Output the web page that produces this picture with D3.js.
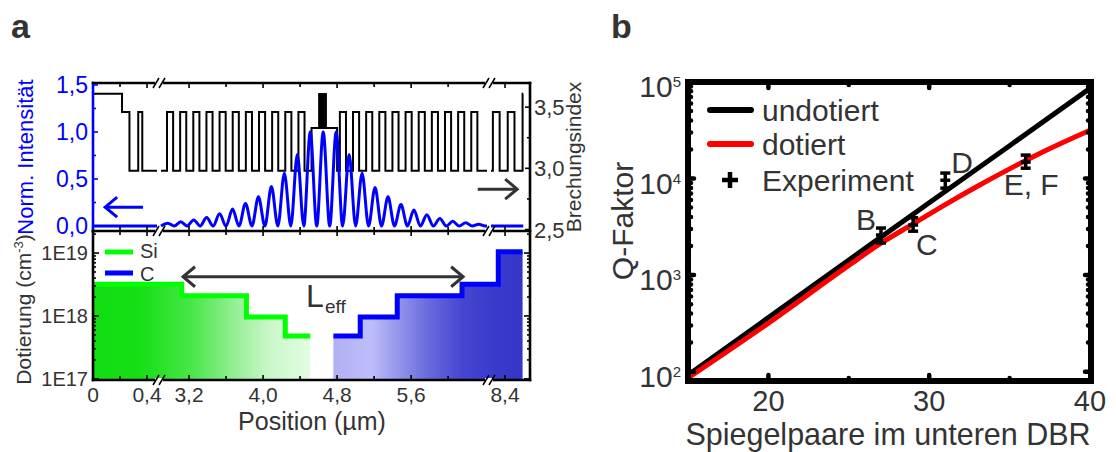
<!DOCTYPE html>
<html>
<head>
<meta charset="utf-8">
<script src="https://cdn.jsdelivr.net/npm/d3@7"></script>
<style>
  body { margin: 0; background: #fff; }
  svg { display: block; font-family: "Liberation Sans", Arial, sans-serif; }
</style>
</head>
<body>
<svg width="1116" height="452"></svg>
<script>
// ---------- panel a : data ----------
// refractive index levels
const nSub = 3.61, nHi = 3.46, nLo = 2.98, nCav = 3.33, nQW = 3.615;
// one DBR pair [thickness µm, n]
const dbrPair = [[0.066, nHi], [0.076, nLo]];
// layer stack, "dbr" rows = number of repeated pairs
const layerStack = [
  [0.215, nSub], [0.055, nHi], [0.065, nLo], [0.030, nHi], [2.597, nLo],
  ["dbr", 11],
  [0.276, nCav], [0.030, nLo],
  ["dbr", 11],
  [1.918, nLo], [0.050, nHi], [0.060, nLo], [0.050, nHi], [0.060, nLo], [0.005, nSub]
];
const activeRegion = [4.595, 4.69];

// normalized intensity: antinode positions (µm) and peak heights
const peakPos = [2.97, 3.11, 3.25, 3.39, 3.53, 3.67, 3.81, 3.95, 4.09, 4.23, 4.37, 4.51,
                 4.65, 4.79, 4.93, 5.07, 5.21, 5.35, 5.49, 5.63, 5.77, 5.91, 6.05, 6.19, 6.33];
const peakVal = [0.03, 0.045, 0.065, 0.09, 0.13, 0.18, 0.24, 0.31, 0.42, 0.56, 0.76, 1.0,
                 1.0, 1.0, 0.76, 0.56, 0.41, 0.31, 0.23, 0.17, 0.12, 0.08, 0.05, 0.035, 0.02];

// doping steps [from µm, to µm, cm^-3]
const siSteps = [[0, 3.12, 3.2e18], [3.12, 3.82, 2.1e18], [3.82, 4.24, 9.6e17], [4.24, 4.51, 4.8e17]];
const cSteps = [[4.76, 5.05, 4.8e17], [5.05, 5.45, 9.6e17], [5.45, 6.15, 2.1e18], [6.15, 8.35, 3.2e18], [8.35, 8.53, 1.05e19]];

const xTickMajor = [0, 0.4, 3.2, 4.0, 4.8, 5.6, 8.4];
const xTickMinor = [0.2, 3.6, 4.4, 5.2, 6.0];
const intTicks = [0, 0.5, 1.0, 1.5];
const intMinor = [0.25, 0.75, 1.25];
const nTicks = [2.5, 3.0, 3.5];
const nMinor = [2.75, 3.25];
const dopTicks = [1e17, 1e18, 1e19];

// ---------- panel b : data ----------
const pairsUndoped = [15, 20, 25, 30, 35, 40];
const qUndoped = [92, 363, 1430, 5620, 21900, 86000];
const pairsDoped = [15, 20, 25, 27, 29, 31, 33, 35, 37, 40];
const qDoped = [86, 318, 1260, 2140, 3390, 5370, 8320, 12600, 18600, 31600];
const expPairs = [27, 29, 31, 36];
const expQ = [2600, 3300, 9600, 14800];
const expLow = [2150, 2850, 7950, 12800];
const expHigh = [3070, 3930, 11400, 17500];
const expNames = ["B", "C", "D", "E, F"];

const svg = d3.select("svg");
const ink = "#333";
const comma = d => d3.format(".1f")(d).replace(".", ",");
const defs = svg.append("defs");

// ================= panel a =================
const aL = 93, aR = 530, aT = 83, aM = 231, aB = 380;
const x = d3.scaleLinear()
    .domain([0, 0.474, 2.897, 6.42, 8.296, 8.585])
    .range([aL, 157, 161, 487, 491, aR]);
const xSegments = [[0, 0.474], [2.897, 6.42], [8.296, 8.585]];
const yI = d3.scaleLinear().domain([-0.053, 1.521]).range([aM, aT]);
const yN = d3.scaleLinear().domain([2.488, 3.697]).range([aM, aT]);
const yD = d3.scaleLog().domain([9.6e16, 2.24e19]).range([aB, aM]);

const ga = svg.append("g");

function grad(id, x1, x2, stops) {
  const g = defs.append("linearGradient").attr("id", id)
      .attr("gradientUnits", "userSpaceOnUse")
      .attr("x1", x1).attr("x2", x2).attr("y1", 0).attr("y2", 0);
  stops.forEach(([o, c]) => g.append("stop").attr("offset", o).attr("stop-color", c));
}
grad("siFill", x(0), x(4.51), [[0, "#12dd12"], [0.22, "#16df16"], [0.45, "#48e648"],
  [0.68, "#9ef09e"], [0.82, "#cbf8cb"], [1, "#e2fde2"]]);
grad("cFill", x(4.76), x(8.53), [[0, "#b0b0f2"], [0.2, "#bebefc"], [0.33, "#9898ec"],
  [0.5, "#6a6ade"], [0.68, "#4646d2"], [0.85, "#3a3acc"], [1, "#3535c8"]]);

// doping fills and lines
const stepPts = s => s.map(d => [d[0], d[2]]).concat([[s[s.length - 1][1], s[s.length - 1][2]]]);
const dopArea = d3.area().curve(d3.curveStepAfter).x(d => x(d[0])).y0(aB).y1(d => yD(d[1]));
const dopLine = d3.line().curve(d3.curveStepAfter).x(d => x(d[0])).y(d => yD(d[1]));

ga.append("path").attr("d", dopArea(stepPts(siSteps))).attr("fill", "url(#siFill)");
ga.append("path").attr("d", dopArea(stepPts(cSteps))).attr("fill", "url(#cFill)");
ga.append("path").attr("d", dopLine(stepPts(siSteps))).attr("fill", "none")
    .attr("stroke", "#00ff00").attr("stroke-width", 5);
ga.append("path").attr("d", dopLine(stepPts(cSteps))).attr("fill", "none")
    .attr("stroke", "#0000ff").attr("stroke-width", 5);

// refractive index profile
const layers = [];
let pos = 0;
layerStack.forEach(([d, n]) => {
  const items = d === "dbr" ? d3.range(n).flatMap(() => dbrPair) : [[d, n]];
  items.forEach(([t, v]) => { layers.push([pos, pos + t, v]); pos += t; });
});
function clipSteps(steps, lo, hi) {
  const s = steps.filter(l => l[1] > lo && l[0] < hi)
      .map(l => [Math.max(l[0], lo), Math.min(l[1], hi), l[2]]);
  return stepPts(s);
}
const nLine = d3.line().curve(d3.curveStepAfter).x(d => x(d[0])).y(d => yN(d[1]));
xSegments.forEach(([lo, hi]) => {
  ga.append("path").attr("d", nLine(clipSteps(layers, lo, hi)))
      .attr("fill", "none").attr("stroke", "#000").attr("stroke-width", 2);
});
ga.append("rect")
    .attr("x", x(activeRegion[0])).attr("width", x(activeRegion[1]) - x(activeRegion[0]))
    .attr("y", yN(nQW)).attr("height", yN(nCav) - yN(nQW))
    .attr("fill", "#000");

// intensity
const midPts = [[xSegments[1][0], 0]];
peakPos.forEach((p, i) => {
  if (i > 0) midPts.push([(peakPos[i - 1] + p) / 2, 0]);
  midPts.push([p, peakVal[i]]);
});
midPts.push([6.40, 0], [xSegments[1][1], 0]);
const intSegs = [[[0, 0], [xSegments[0][1], 0]], midPts, [[xSegments[2][0], 0], [8.535, 0]]];
const iLine = d3.line().curve(d3.curveMonotoneX).x(d => x(d[0])).y(d => yI(d[1]));
intSegs.forEach(s => {
  ga.append("path").attr("d", iLine(s)).attr("fill", "none")
      .attr("stroke", "#0000ff").attr("stroke-width", 3);
});

// ticks
function vTicks(vals, y, len) {
  ga.append("g").selectAll("line").data(vals).join("line")
      .attr("x1", d => x(d)).attr("x2", d => x(d)).attr("y1", y).attr("y2", y + len)
      .attr("stroke", "#000").attr("stroke-width", 1.6);
}
function hTicks(scale, vals, xx, len, color) {
  ga.append("g").selectAll("line").data(vals).join("line")
      .attr("x1", xx).attr("x2", xx + len).attr("y1", d => scale(d)).attr("y2", d => scale(d))
      .attr("stroke", color).attr("stroke-width", 1.6);
}
vTicks(xTickMajor, aT, 5); vTicks(xTickMinor, aT, 4);
vTicks(xTickMajor, aM, -5); vTicks(xTickMinor, aM, -4);
vTicks(xTickMajor, aM, 5); vTicks(xTickMinor, aM, 4);
vTicks(xTickMajor, aB, -5); vTicks(xTickMinor, aB, -4);
hTicks(yI, intTicks, aL, 5, "#0000ff"); hTicks(yI, intMinor, aL, 3, "#0000ff");
hTicks(yN, nTicks, aR, -5, "#000"); hTicks(yN, nMinor, aR, -3, "#000");
const dopMinor = [1e17, 1e18, 1e19].flatMap(d => d3.range(2, 10).map(k => k * d)).filter(v => v <= 2.24e19);
hTicks(yD, dopTicks, aL, 6, "#000"); hTicks(yD, dopMinor, aL, 3, "#000");
hTicks(yD, dopTicks, aR, -6, "#000"); hTicks(yD, dopMinor, aR, -3, "#000");

// frame
const frame = [
  [aL, aT, aL, aM, "#0000ff"], [aL, aM, aL, aB, "#000"], [aR, aT, aR, aB, "#000"],
  [aL, aT, aR, aT, "#000"], [aL, aM, aR, aM, "#000"], [aL, aB, aR, aB, "#000"]
];
ga.append("g").selectAll("line").data(frame).join("line")
    .attr("x1", d => d[0]).attr("y1", d => d[1]).attr("x2", d => d[2]).attr("y2", d => d[3])
    .attr("stroke", d => d[4]).attr("stroke-width", 2.6).attr("stroke-linecap", "square");

// axis breaks
const breakX = [(x(0.474) + x(2.897)) / 2, (x(6.42) + x(8.296)) / 2];
breakX.forEach(bx => [aT, aM, aB].forEach(by => {
  ga.append("rect").attr("x", bx - 4).attr("y", by - 2).attr("width", 8).attr("height", 4).attr("fill", "#fff");
  [-3, 3].forEach(o => ga.append("line")
      .attr("x1", bx + o - 3).attr("y1", by + 5).attr("x2", bx + o + 3).attr("y2", by - 5)
      .attr("stroke", "#000").attr("stroke-width", 1.5));
}));

// tick labels
ga.append("g").selectAll("text").data(xTickMajor).join("text")
    .attr("x", d => x(d)).attr("y", 402).attr("text-anchor", "middle")
    .attr("font-size", 21).attr("fill", ink).text(d => d === 0 ? "0" : comma(d));
ga.append("g").selectAll("text").data(intTicks).join("text")
    .attr("x", 88).attr("y", d => yI(d) + 8).attr("text-anchor", "end")
    .attr("font-size", 23).attr("fill", "#0000ff").text(comma);
ga.append("g").selectAll("text").data(nTicks).join("text")
    .attr("x", 534).attr("y", d => yN(d) + 8).attr("text-anchor", "start")
    .attr("font-size", 22).attr("fill", ink).text(comma);
ga.append("g").selectAll("text").data(dopTicks).join("text")
    .attr("x", 88).attr("y", d => yD(d) + 7).attr("text-anchor", "end")
    .attr("font-size", 20).attr("fill", ink).text(d => "1E" + Math.round(Math.log10(d)));

// axis titles
ga.append("text").attr("x", 312).attr("y", 430).attr("text-anchor", "middle")
    .attr("font-size", 25).attr("fill", ink).text("Position (µm)");
ga.append("text").attr("transform", `translate(33,${(aT + aM) / 2}) rotate(-90)`)
    .attr("text-anchor", "middle").attr("font-size", 22).attr("fill", "#0000ff").text("Norm. Intensität");
ga.append("text").attr("transform", `translate(581,${(aT + aM) / 2}) rotate(-90)`)
    .attr("text-anchor", "middle").attr("font-size", 21).attr("fill", ink).text("Brechungsindex");
const dt = ga.append("text").attr("transform", `translate(31,${(aM + aB) / 2 + 4}) rotate(-90)`)
    .attr("text-anchor", "middle").attr("font-size", 21).attr("fill", ink);
dt.append("tspan").text("Dotierung (cm");
dt.append("tspan").attr("dy", -8).attr("font-size", 13).text("-3");
dt.append("tspan").attr("dy", 8).text(")");

// legend Si / C
[["Si", "#00ff00", 252, 258], ["C", "#0000ff", 273, 281]].forEach(([t, c, yy, base]) => {
  ga.append("line").attr("x1", 105).attr("x2", 133).attr("y1", yy).attr("y2", yy)
      .attr("stroke", c).attr("stroke-width", 5);
  ga.append("text").attr("x", 140).attr("y", base).attr("font-size", 20).attr("fill", ink).text(t);
});

// arrows
function chevron(tx, ty, dir, color, w) {
  ga.append("path")
      .attr("d", `M${tx + dir * 12},${ty - 10}L${tx},${ty}L${tx + dir * 12},${ty + 10}`)
      .attr("fill", "none").attr("stroke", color).attr("stroke-width", w);
}
function arrow(x1, x2, yy, color, w, both) {
  ga.append("line").attr("x1", x1).attr("x2", x2).attr("y1", yy).attr("y2", yy)
      .attr("stroke", color).attr("stroke-width", w);
  chevron(x1, yy, 1, color, w);
  if (both) chevron(x2, yy, -1, color, w);
}
arrow(x(0.09), x(0.37), yI(0.2), "#0000ff", 3, false);
ga.append("line").attr("x1", x(6.32)).attr("x2", x(8.49)).attr("y1", yN(2.83)).attr("y2", yN(2.83))
    .attr("stroke", "#333").attr("stroke-width", 3);
chevron(x(8.49), yN(2.83), -1, "#333", 3);
arrow(x(3.135), x(6.162), yD(4.2e18), "#333", 3, true);
ga.append("text").attr("x", 306).attr("y", 307).attr("font-size", 32).attr("fill", ink).text("L");
ga.append("text").attr("x", 325).attr("y", 313).attr("font-size", 19).attr("fill", ink).text("eff");

svg.append("text").attr("x", 11).attr("y", 38).attr("font-size", 34).attr("font-weight", "bold")
    .attr("fill", ink).text("a");

// ================= panel b =================
const bL = 688, bR = 1091, bT = 82, bB = 381;
const xb = d3.scaleLinear().domain([15, 40]).range([bL, 1090]);
const yb = d3.scaleLog().domain([80, 1e5]).range([bB, bT]);
const gb = svg.append("g");

defs.append("clipPath").attr("id", "bclip").append("rect")
    .attr("x", bL).attr("y", bT).attr("width", bR - bL).attr("height", bB - bT);

const qLine = d3.line().curve(d3.curveMonotoneX).x(d => xb(d[0])).y(d => yb(d[1]));
gb.append("path").attr("clip-path", "url(#bclip)")
    .attr("d", qLine(d3.zip(pairsUndoped, qUndoped)))
    .attr("fill", "none").attr("stroke", "#000").attr("stroke-width", 5);
gb.append("path").attr("clip-path", "url(#bclip)")
    .attr("d", qLine(d3.zip(pairsDoped, qDoped)))
    .attr("fill", "none").attr("stroke", "#ff0000").attr("stroke-width", 5);

// experiment with error bars
const exp = expPairs.map((p, i) => ({p, q: expQ[i], lo: expLow[i], hi: expHigh[i], name: expNames[i]}));
const eg = gb.append("g").attr("stroke", "#000").attr("stroke-width", 3.5);
exp.forEach(d => {
  const cx = xb(d.p);
  eg.append("line").attr("x1", cx).attr("x2", cx).attr("y1", yb(d.lo)).attr("y2", yb(d.hi));
  [d.lo, d.hi, d.q].forEach(v => eg.append("line")
      .attr("x1", cx - 5).attr("x2", cx + 5).attr("y1", yb(v)).attr("y2", yb(v)));
});
const labOff = {"B": [-25, -5], "C": [3, 30], "D": [6, -7], "E, F": [-22, 33]};
exp.forEach(d => {
  const o = labOff[d.name];
  gb.append("text").attr("x", xb(d.p) + o[0]).attr("y", yb(d.q) + o[1])
      .attr("font-size", 30).attr("fill", ink).text(d.name);
});

// frame and ticks
gb.append("rect").attr("x", bL).attr("y", bT).attr("width", bR - bL).attr("height", bB - bT)
    .attr("fill", "none").attr("stroke", "#000").attr("stroke-width", 6);
const bt = gb.append("g").attr("stroke", "#000").attr("stroke-width", 4.5).attr("stroke-linecap", "round");
[[20, 6], [30, 6], [25, 3], [35, 3]].forEach(([v, len]) => {
  bt.append("line").attr("x1", xb(v)).attr("x2", xb(v)).attr("y1", bB).attr("y2", bB - len);
  bt.append("line").attr("x1", xb(v)).attr("x2", xb(v)).attr("y1", bT).attr("y2", bT + len);
});
const qMajor = [100, 1000, 10000];
const qMinor = [100, 1000, 10000].flatMap(d => d3.range(2, 10).map(k => k * d));
qMajor.map(v => [v, 6]).concat(qMinor.map(v => [v, 3])).forEach(([v, len]) => {
  bt.append("line").attr("x1", bL).attr("x2", bL + len).attr("y1", yb(v)).attr("y2", yb(v));
  bt.append("line").attr("x1", bR).attr("x2", bR - len).attr("y1", yb(v)).attr("y2", yb(v));
});

// tick labels
gb.append("g").selectAll("text").data([20, 30, 40]).join("text")
    .attr("x", d => xb(d)).attr("y", 411).attr("text-anchor", "middle")
    .attr("font-size", 29).attr("fill", ink).text(d => d);
[100, 1000, 10000, 100000].forEach(v => {
  const t = gb.append("text").attr("x", 681).attr("y", yb(v) + 15).attr("text-anchor", "end")
      .attr("font-size", 30).attr("fill", ink);
  t.append("tspan").text("10");
  t.append("tspan").attr("dy", -10).attr("font-size", 15).text(Math.round(Math.log10(v)));
});

// axis titles
gb.append("text").attr("x", 888).attr("y", 445).attr("text-anchor", "middle")
    .attr("font-size", 30.5).attr("fill", ink).text("Spiegelpaare im unteren DBR");
gb.append("text").attr("transform", "translate(633,221) rotate(-90)").attr("text-anchor", "middle")
    .attr("font-size", 30).attr("fill", ink).text("Q-Faktor");

// legend
gb.append("line").attr("x1", 710).attr("x2", 751).attr("y1", 110).attr("y2", 110)
    .attr("stroke", "#000").attr("stroke-width", 6).attr("stroke-linecap", "round");
gb.append("line").attr("x1", 710).attr("x2", 751).attr("y1", 144).attr("y2", 144)
    .attr("stroke", "#ff0000").attr("stroke-width", 6).attr("stroke-linecap", "round");
gb.append("path").attr("d", "M722,180H738M730,172V188").attr("stroke", "#000").attr("stroke-width", 4.5);
[["undotiert", 121], ["dotiert", 155], ["Experiment", 191]].forEach(([t, yy]) => {
  gb.append("text").attr("x", 762).attr("y", yy).attr("font-size", 30).attr("fill", ink).text(t);
});

svg.append("text").attr("x", 611).attr("y", 38).attr("font-size", 34).attr("font-weight", "bold")
    .attr("fill", ink).text("b");
</script>
</body>
</html>
